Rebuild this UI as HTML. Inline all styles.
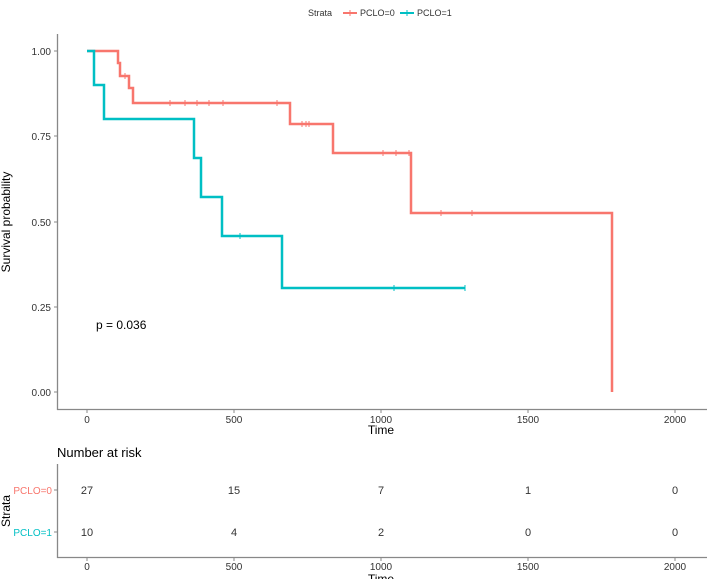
<!DOCTYPE html>
<html><head><style>
body{margin:0;background:#fff;}
svg{display:block;font-family:"Liberation Sans",sans-serif;}
</style></head><body>
<svg width="707" height="579" viewBox="0 0 707 579">
<rect width="707" height="579" fill="#fff"/>
<!-- legend -->
<text x="308" y="16" font-size="9" fill="#333">Strata</text>
<line x1="343" y1="13" x2="357" y2="13" stroke="#F8766D" stroke-width="2"/>
<line x1="350" y1="10" x2="350" y2="16" stroke="#F8766D" stroke-width="1"/>
<text x="360" y="16" font-size="9" fill="#333">PCLO=0</text>
<line x1="400" y1="13" x2="414" y2="13" stroke="#00BFC4" stroke-width="2"/>
<line x1="407" y1="10" x2="407" y2="16" stroke="#00BFC4" stroke-width="1"/>
<text x="417" y="16" font-size="9" fill="#333">PCLO=1</text>
<!-- axes main -->
<line x1="57.5" y1="34" x2="57.5" y2="410" stroke="#888" stroke-width="1.3"/>
<line x1="57" y1="409.5" x2="707" y2="409.5" stroke="#888" stroke-width="1.3"/>
<g font-size="10" fill="#333" text-anchor="end">
<text x="51" y="55">1.00</text><text x="51" y="140">0.75</text><text x="51" y="226">0.50</text><text x="51" y="311">0.25</text><text x="51" y="396">0.00</text>
</g>
<g stroke="#888"><line x1="54" y1="51" x2="57" y2="51"/><line x1="54" y1="136" x2="57" y2="136"/><line x1="54" y1="222" x2="57" y2="222"/><line x1="54" y1="307" x2="57" y2="307"/><line x1="54" y1="392" x2="57" y2="392"/>
<line x1="87" y1="410" x2="87" y2="413"/><line x1="234" y1="410" x2="234" y2="413"/><line x1="381" y1="410" x2="381" y2="413"/><line x1="528" y1="410" x2="528" y2="413"/><line x1="675" y1="410" x2="675" y2="413"/></g>
<g font-size="10" fill="#333" text-anchor="middle">
<text x="87" y="423">0</text><text x="234" y="423">500</text><text x="381" y="423">1000</text><text x="528" y="423">1500</text><text x="675" y="423">2000</text>
</g>
<text x="381" y="434" font-size="12" fill="#000" text-anchor="middle">Time</text>
<text transform="translate(10,222) rotate(-90)" font-size="12" fill="#000" text-anchor="middle">Survival probability</text>
<text x="96" y="329" font-size="12" fill="#000">p = 0.036</text>
<!-- curves -->
<polyline fill="none" stroke="#F8766D" stroke-width="2.5" points="87,51 118,51 118,63 120,63 120,76 129,76 129,88 133,88 133,103 290,103 290,124 333,124 333,153 411,153 411,213 612,213 612,392"/>
<polyline fill="none" stroke="#00BFC4" stroke-width="2.5" points="87,51 94,51 94,85 104,85 104,119 194,119 194,158 201,158 201,197 222,197 222,236 282,236 282,288 465,288"/>
<g stroke="#F8766D" stroke-width="1">
<path d="M125 73v6M170 100v6M185 100v6M197 100v6M209 100v6M223 100v6M277 100v6M302 121v6M306 121v6M309 121v6M383 150v6M396 150v6M409 150v6M441 210v6M472 210v6"/></g>
<g stroke="#00BFC4" stroke-width="1"><path d="M240 233v6M394 285v6M465 285v6"/></g>
<!-- risk table -->
<text x="57" y="457" font-size="13" fill="#000">Number at risk</text>
<line x1="57.5" y1="464" x2="57.5" y2="558" stroke="#888" stroke-width="1.3"/>
<line x1="57" y1="557.5" x2="707" y2="557.5" stroke="#888" stroke-width="1.3"/>
<g stroke="#888"><line x1="54" y1="490" x2="57" y2="490"/><line x1="54" y1="532" x2="57" y2="532"/>
<line x1="87" y1="558" x2="87" y2="561"/><line x1="234" y1="558" x2="234" y2="561"/><line x1="381" y1="558" x2="381" y2="561"/><line x1="528" y1="558" x2="528" y2="561"/><line x1="675" y1="558" x2="675" y2="561"/></g>
<text x="52" y="494" font-size="10" fill="#F8766D" text-anchor="end">PCLO=0</text>
<text x="52" y="536" font-size="10" fill="#00BFC4" text-anchor="end">PCLO=1</text>
<text transform="translate(10,511) rotate(-90)" font-size="12" fill="#000" text-anchor="middle">Strata</text>
<g font-size="11" fill="#333" text-anchor="middle">
<text x="87" y="494">27</text><text x="234" y="494">15</text><text x="381" y="494">7</text><text x="528" y="494">1</text><text x="675" y="494">0</text>
<text x="87" y="536">10</text><text x="234" y="536">4</text><text x="381" y="536">2</text><text x="528" y="536">0</text><text x="675" y="536">0</text>
</g>
<g font-size="10" fill="#333" text-anchor="middle">
<text x="87" y="570">0</text><text x="234" y="570">500</text><text x="381" y="570">1000</text><text x="528" y="570">1500</text><text x="675" y="570">2000</text>
</g>
<text x="381" y="583" font-size="12" fill="#000" text-anchor="middle">Time</text>
</svg>
</body></html>
